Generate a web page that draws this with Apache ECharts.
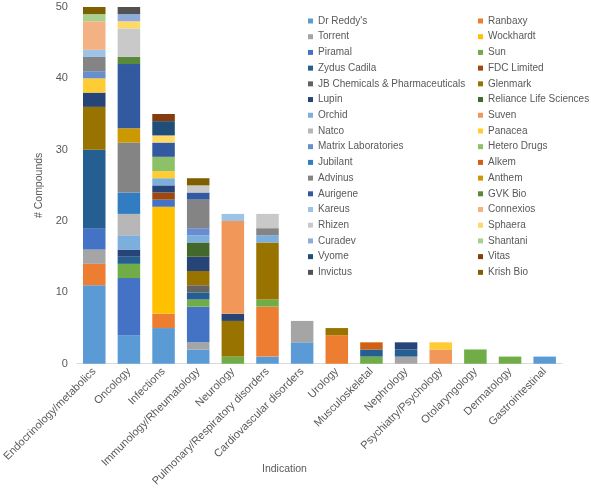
<!DOCTYPE html>
<html>
<head>
<meta charset="utf-8">
<script src="https://cdn.jsdelivr.net/npm/echarts@6/dist/echarts.min.js"></script>
<style>html,body{margin:0;padding:0;background:#fff}#c{width:591px;height:489px}</style>
</head>
<body>
<div id="c"></div>
<script>
const categories = ["Endocrinology/metabolics","Oncology","Infections","Immunology/Rheumatology","Neurology","Pulmonary/Respiratory disorders","Cardiovascular disorders","Urology","Musculoskeletal","Nephrology","Psychiatry/Psychology","Otolaryngology","Dermatology","Gastrointestinal"];
const yTicks = [0,10,20,30,40,50];

const drReddys   = [11,4,5,2,0,1,3,0,0,0,0,0,0,1];
const ranbaxy    = [3,0,2,0,0,7,0,4,0,0,0,0,0,0];
const torrent    = [2,0,0,1,0,0,3,0,0,1,0,0,0,0];
const wockhardt  = [0,0,15,0,0,0,0,0,0,0,0,0,0,0];
const piramal    = [3,8,1,5,0,0,0,0,0,0,0,0,0,0];
const sun        = [0,2,0,1,1,1,0,0,1,0,0,2,1,0];
const zydus      = [11,1,0,1,0,0,0,0,1,1,0,0,0,0];
const fdc        = [0,0,1,0,0,0,0,0,0,0,0,0,0,0];
const jbChem     = [0,0,0,1,0,0,0,0,0,0,0,0,0,0];
const glenmark   = [6,0,0,2,5,8,0,1,0,0,0,0,0,0];
const lupin      = [2,1,1,2,1,0,0,0,0,1,0,0,0,0];
const reliance   = [0,0,0,2,0,0,0,0,0,0,0,0,0,0];
const orchid     = [0,2,1,1,0,1,0,0,0,0,0,0,0,0];
const suven      = [0,0,0,0,13,0,0,0,0,0,2,0,0,0];
const natco      = [0,3,0,0,0,0,0,0,0,0,0,0,0,0];
const panacea    = [2,0,1,0,0,0,0,0,0,0,1,0,0,0];
const matrix     = [1,0,0,1,0,0,0,0,0,0,0,0,0,0];
const hetero     = [0,0,2,0,0,0,0,0,0,0,0,0,0,0];
const jubilant   = [0,3,0,0,0,0,0,0,0,0,0,0,0,0];
const alkem      = [0,0,0,0,0,0,0,0,1,0,0,0,0,0];
const advinus    = [2,7,0,4,0,1,0,0,0,0,0,0,0,0];
const anthem     = [0,2,0,0,0,0,0,0,0,0,0,0,0,0];
const aurigene   = [0,9,2,1,0,0,0,0,0,0,0,0,0,0];
const gvkBio     = [0,1,0,0,0,0,0,0,0,0,0,0,0,0];
const kareus     = [1,0,0,0,1,0,0,0,0,0,0,0,0,0];
const connexios  = [4,0,0,0,0,0,0,0,0,0,0,0,0,0];
const rhizen     = [0,4,0,1,0,2,0,0,0,0,0,0,0,0];
const sphaera    = [0,1,1,0,0,0,0,0,0,0,0,0,0,0];
const curadev    = [0,1,0,0,0,0,0,0,0,0,0,0,0,0];
const shantani   = [1,0,0,0,0,0,0,0,0,0,0,0,0,0];
const vyome      = [0,0,2,0,0,0,0,0,0,0,0,0,0,0];
const vitas      = [0,0,1,0,0,0,0,0,0,0,0,0,0,0];
const invictus   = [0,1,0,0,0,0,0,0,0,0,0,0,0,0];
const krishBio   = [1,0,0,1,0,0,0,0,0,0,0,0,0,0];

const seriesList = [
  ["Dr Reddy's", drReddys], ["Ranbaxy", ranbaxy], ["Torrent", torrent], ["Wockhardt", wockhardt],
  ["Piramal", piramal], ["Sun", sun], ["Zydus Cadila", zydus], ["FDC Limited", fdc],
  ["JB Chemicals & Pharmaceuticals", jbChem], ["Glenmark", glenmark], ["Lupin", lupin], ["Reliance Life Sciences", reliance],
  ["Orchid", orchid], ["Suven", suven], ["Natco", natco], ["Panacea", panacea],
  ["Matrix Laboratories", matrix], ["Hetero Drugs", hetero], ["Jubilant", jubilant], ["Alkem", alkem],
  ["Advinus", advinus], ["Anthem", anthem], ["Aurigene", aurigene], ["GVK Bio", gvkBio],
  ["Kareus", kareus], ["Connexios", connexios], ["Rhizen", rhizen], ["Sphaera", sphaera],
  ["Curadev", curadev], ["Shantani", shantani], ["Vyome", vyome], ["Vitas", vitas],
  ["Invictus", invictus], ["Krish Bio", krishBio]
];

const palette = ["#5B9BD5","#ED7D31","#A5A5A5","#FFC000","#4472C4","#70AD47",
  "#255E91","#9E480E","#636363","#997300","#264478","#43682B",
  "#7CAFDD","#F1975A","#B7B7B7","#FFCD33","#698ED0","#8CC168",
  "#327DC2","#D26012","#848484","#CC9A00","#335AA1","#5A8A39",
  "#9DC3E6","#F4B183","#C9C9C9","#FFD966","#8FAADC","#A9D18E",
  "#1F4E79","#843C0C","#525252","#7F6000"];

const FONT = "'Liberation Sans', Arial, sans-serif";
const TXT = "#595959";

const names = seriesList.map(s => s[0]);
const legendCommon = {
  orient: 'vertical', top: 15, padding: 0, itemWidth: 5, itemHeight: 5, icon: 'rect', itemGap: 3.71,
  textStyle: { fontFamily: FONT, fontSize: 10, color: TXT, lineHeight: 12 },
  selectedMode: false
};

const chart = echarts.init(document.getElementById('c'), null, { renderer: 'canvas' });
chart.setOption({
  animation: false,
  color: palette,
  grid: { left: 66, top: 7, width: 496, height: 363, containLabel: false },
  legend: [
    Object.assign({ left: 308, data: names.filter((n, i) => i % 2 === 0) }, legendCommon),
    Object.assign({ left: 478, data: names.filter((n, i) => i % 2 === 1) }, legendCommon)
  ],
  xAxis: {
    type: 'category', data: categories,
    axisLine: { lineStyle: { color: '#D9D9D9' } },
    axisTick: { show: false },
    axisLabel: { interval: 0, rotate: 45, fontFamily: FONT, fontSize: 11, color: TXT, margin: 6 }
  },
  yAxis: {
    type: 'value', min: yTicks[0], max: yTicks[yTicks.length - 1], interval: 10,
    splitLine: { show: false }, axisLine: { show: false }, axisTick: { show: false },
    axisLabel: { fontFamily: FONT, fontSize: 11, color: TXT, margin: 9 },
    name: '# Compounds', nameLocation: 'middle', nameGap: 31, nameRotate: 90,
    nameTextStyle: { fontFamily: FONT, fontSize: 10.5, color: TXT }
  },
  graphic: [{
    type: 'text', left: 284 - 22, top: 464,
    style: { text: 'Indication', font: '10.5px ' + FONT, fill: TXT }
  }],
  series: seriesList.map(([n, d]) => ({
    name: n, type: 'bar', stack: 'total', data: d, barCategoryGap: '35%'
  }))
});
</script>
</body>
</html>
